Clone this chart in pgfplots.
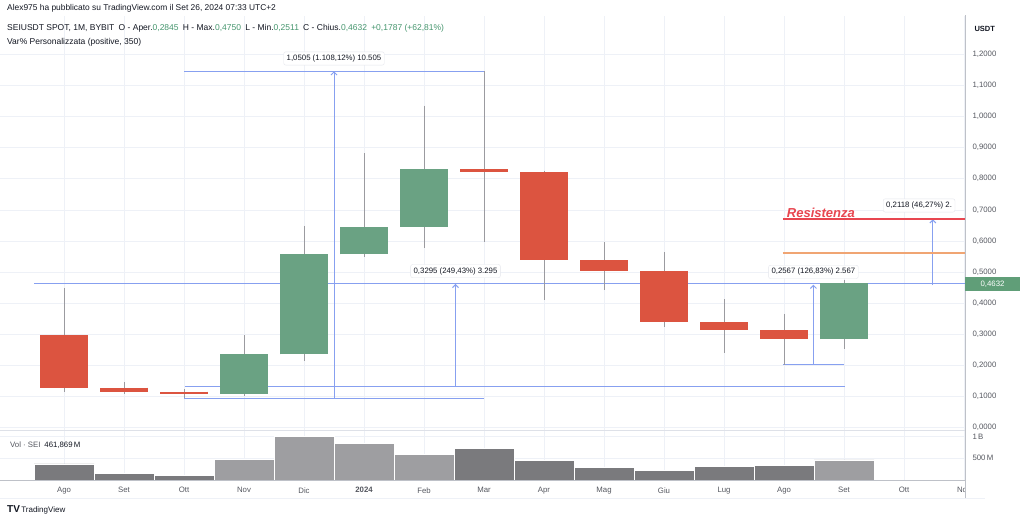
\documentclass[border=0pt]{standalone}
\usepackage{fontspec}
\setmainfont{Liberation Sans}
\usepackage{pgfplots}
\pgfplotsset{compat=1.18}
\usetikzlibrary{arrows.meta}

\definecolor{upc}{RGB}{106,162,131}
\definecolor{dnc}{RGB}{220,84,64}
\definecolor{wickc}{RGB}{155,155,160}
\definecolor{gridc}{RGB}{238,241,247}
\definecolor{sepc}{RGB}{222,225,232}
\definecolor{axc}{RGB}{190,193,200}
\definecolor{meas}{RGB}{135,160,240}
\definecolor{txt}{RGB}{19,23,34}
\definecolor{tickc}{RGB}{85,88,96}
\definecolor{valg}{RGB}{70,150,110}
\definecolor{volup}{RGB}{158,158,161}
\definecolor{voldn}{RGB}{122,122,125}
\definecolor{resred}{RGB}{232,70,80}
\definecolor{orangec}{RGB}{240,165,115}
\definecolor{tagg}{RGB}{96,158,120}

\newcommand\tickfont{\fontsize{7.8}{9}\selectfont}
\newcommand\headfont{\fontsize{8.5}{10}\selectfont}

% colour, month index, open, high, low, close
\newcommand{\candle}[6]{%
  \addplot[draw=wickc, line width=1pt] coordinates {(#2,#4) (#2,#5)};
  \addplot[draw=#1, line width=48pt] coordinates {(#2,#3) (#2,#6)};
}

\tikzset{
  measline/.style={draw=meas, line width=1pt},
  measarrow/.style={draw=meas, line width=1pt, -{Straight Barb[length=3pt,width=6pt]}},
  measbox/.style={fill=white, draw={rgb,255:red,228;green,230;blue,236}, rounded corners=2pt,
    inner sep=3pt, font=\tickfont, text=txt},
}

\begin{document}
\begin{tikzpicture}
\path[use as bounding box, fill=white] (0pt,0pt) rectangle (1024pt,522pt);

% price pane
\begin{axis}[
  at={(0pt,92pt)}, anchor=south west, scale only axis,
  width=965pt, height=414pt,
  xmin=-1.0667, xmax=15.0167, ymin=-0.008, ymax=1.3232,
  axis line style={draw=none},
  major tick length=0pt,
  xtick={0,...,15}, xticklabels={},
  ytick={0,0.1,0.2,0.3,0.4,0.5,0.6,0.7,0.8,0.9,1.0,1.1,1.2},
  yticklabel pos=right,
  grid=major, major grid style={draw=gridc, line width=0.6pt},
  yticklabel style={font=\tickfont, text=tickc, xshift=4pt,
    /pgf/number format/.cd, fixed, fixed zerofill, precision=4, use comma,
    assume math mode=true},
]
% drawing tools
\addplot[measline] coordinates {(-0.5,0.4616) (15.0167,0.4616)};
\addplot[measline] coordinates {(2,1.1453) (7,1.1453)};
\addplot[measline] coordinates {(2,0.0948) (7,0.0948)};
\addplot[measarrow] coordinates {(4.5,0.0948) (4.5,1.1453)};
\addplot[measline] coordinates {(2.02,0.1321) (13.02,0.1321)};
\addplot[measarrow] coordinates {(6.525,0.1321) (6.525,0.4616)};
\addplot[measline] coordinates {(11.98,0.2024) (13,0.2024)};
\addplot[measarrow] coordinates {(12.49,0.2024) (12.49,0.4591)};
\addplot[measarrow] coordinates {(14.48,0.4577) (14.48,0.6695)};
\addplot[draw=orangec, line width=2pt] coordinates {(11.98,0.560) (15.0167,0.560)};
\addplot[draw=resred, line width=2pt] coordinates {(11.98,0.6695) (15.0167,0.6695)};

% monthly candles
\candle{dnc}{0}{0.2974}{0.4476}{0.1150}{0.1280}
\candle{dnc}{1}{0.1280}{0.1450}{0.1070}{0.1150}
\candle{dnc}{2}{0.1150}{0.1240}{0.0948}{0.1080}
\candle{upc}{3}{0.1080}{0.2974}{0.1000}{0.2354}
\candle{upc}{4}{0.2354}{0.6480}{0.2150}{0.5570}
\candle{upc}{5}{0.5570}{0.8817}{0.5490}{0.6457}
\candle{upc}{6}{0.6457}{1.0347}{0.5760}{0.8300}
\candle{dnc}{7}{0.8300}{1.1453}{0.5970}{0.8215}
\candle{dnc}{8}{0.8215}{0.8260}{0.4100}{0.5386}
\candle{dnc}{9}{0.5386}{0.5960}{0.4420}{0.5040}
\candle{dnc}{10}{0.5040}{0.5630}{0.3220}{0.3380}
\candle{dnc}{11}{0.3380}{0.4130}{0.2386}{0.3135}
\candle{dnc}{12}{0.3135}{0.3650}{0.2024}{0.2845}
\candle{upc}{13}{0.2845}{0.4750}{0.2511}{0.4632}

\node[measbox, above, yshift=6pt] at (axis cs:4.5,1.1453) {1,0505 (1.108,12\%) 10.505};
\node[measbox, above, yshift=6pt] at (axis cs:6.525,0.4616) {0,3295 (249,43\%) 3.295};
\node[measbox, above, yshift=6pt] at (axis cs:12.49,0.4591) {0,2567 (126,83\%) 2.567};
\node[measbox, anchor=south west, yshift=7pt] at (axis cs:13.65,0.6695) {0,2118 (46,27\%) 2.};
\node[anchor=base west, yshift=2pt, text=resred, font=\fontsize{13}{14}\selectfont\bfseries\itshape]
  at (axis cs:11.99,0.6695) {Resistenza};
\end{axis}

% volume pane
\begin{axis}[
  at={(0pt,42pt)}, anchor=south west, scale only axis,
  width=965pt, height=50pt,
  xmin=-1.0667, xmax=15.0167, ymin=0, ymax=1152,
  axis line style={draw=none},
  major tick length=0pt,
  xtick={0,...,15},
  xticklabels={Ago,Set,Ott,Nov,Dic,\textbf{2024},Feb,Mar,Apr,Mag,Giu,Lug,Ago,Set,Ott,Nov},
  ytick={500,1000}, yticklabels={500\,M,1\,B},
  yticklabel pos=right,
  grid=major, major grid style={draw=gridc, line width=0.6pt},
  xticklabel style={font=\tickfont, text=tickc, yshift=-4pt},
  yticklabel style={font=\tickfont, text=tickc, xshift=4pt},
]
\addplot[ybar, bar width=1, bar shift=0pt, fill=voldn, draw=white, line width=0.8pt]
  coordinates {(0,369) (1,155) (2,115) (7,730) (8,445) (9,292) (10,215) (11,307) (12,338)};
\addplot[ybar, bar width=1, bar shift=0pt, fill=volup, draw=white, line width=0.8pt]
  coordinates {(3,477) (4,998) (5,846) (6,592) (13,462)};
\end{axis}

% pane frames and price scale
\fill[white] (965.5pt,22pt) rectangle (1024pt,41pt);
\draw[sepc, line width=0.8pt] (0pt,92pt) -- (965pt,92pt);
\draw[axc, line width=0.8pt] (0pt,42pt) -- (965pt,42pt);
\draw[gridc, line width=0.8pt] (0pt,24pt) -- (985pt,24pt);
\draw[axc, line width=0.8pt] (965pt,24pt) -- (965pt,507pt);
\node[fill=tagg, text=white, font=\tickfont, minimum width=55pt, minimum height=14pt, inner sep=1pt]
  at (992.5pt,238pt) {0,4632};
\node[anchor=west, font=\fontsize{7.5}{9}\selectfont\bfseries, text=txt] at (971pt,493pt) {USDT};

% header and legends
\node[anchor=west, font=\fontsize{8.4}{10}\selectfont, text=txt, inner sep=0pt] at (7pt,514pt)
  {Alex975 ha pubblicato su TradingView.com il Set 26, 2024 07:33 UTC+2};
\node[anchor=west, font=\headfont, text=txt, inner sep=0pt] at (7pt,494pt)
  {SEIUSDT SPOT, 1M, BYBIT\enspace O - Aper.\textcolor{valg}{0,2845}\enspace H - Max.\textcolor{valg}{0,4750}\enspace
   L - Min.\textcolor{valg}{0,2511}\enspace C - Chius.\textcolor{valg}{0,4632}\enspace \textcolor{valg}{+0,1787 (+62,81\%)}};
\node[anchor=west, font=\headfont, text=txt, inner sep=0pt] at (7pt,480pt)
  {Var\% Personalizzata (positive, 350)};
\node[anchor=west, font=\tickfont, text=tickc, inner sep=0pt] at (10pt,77pt)
  {Vol · SEI\enspace\textcolor{txt}{461,869\,M}};
\node[anchor=west, font=\fontsize{8}{9}\selectfont, text=txt, inner sep=0pt] at (7pt,12pt)
  {{\fontsize{10}{10}\selectfont\bfseries TV}\,TradingView};
\end{tikzpicture}
\end{document}
